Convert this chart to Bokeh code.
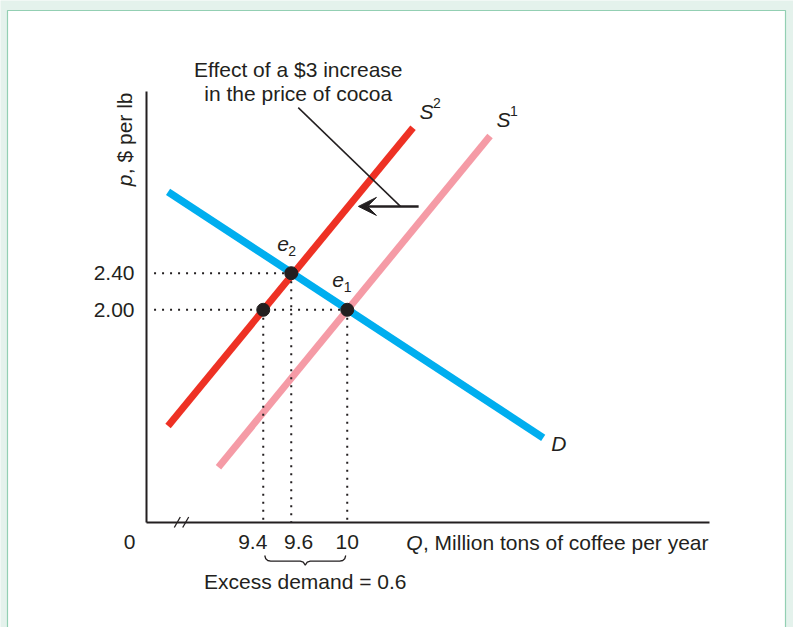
import math
from bokeh.plotting import figure
from bokeh.models import (Range1d, FixedTicker, NumeralTickFormatter, Label, Arrow,
                          VeeHead, PolyAnnotation, BoxAnnotation)
from bokeh.embed import file_html
from bokeh.resources import INLINE

# ---------------- data ----------------
q_lo, q_hi = 8.566, 12.588          # quantity axis extent (million tons)
p_lo, p_hi = -0.325, 4.386          # price axis extent ($ per lb)
q_view = (7.523, 13.188)            # visible window
p_view = (-1.4725, 5.3805)

q_ticks = [9.4, 9.6, 10.0]
q_tick_labels = ["9.4", "9.6", "10"]
p_ticks = [2.0, 2.4]
p_tick_labels = ["2.00", "2.40"]

demand_q = [8.72, 11.40]
demand_p = [3.29, 0.60]
supply1_q = [9.08, 11.02]
supply1_p = [0.28, 3.90]
supply2_q = [8.72, 10.47]
supply2_p = [0.73, 3.99]

eq_q = [9.4, 9.6, 10.0]
eq_p = [2.0, 2.4, 2.0]
guide_q0 = 8.62

shift_p = 3.13
shift_q_from = 10.51
shift_q_to = 10.08
pointer_q = [10.38, 9.65]
pointer_p = [3.13, 4.21]

# ---------------- style ----------------
FONT = "Liberation Sans"
INK = "#231f20"
BLUE = "#00aeef"
RED = "#ee3124"
PINK = "#f59ba6"
PANEL_BG = "#e4f2ec"
PANEL_LINE = "#93cfb3"

W, H = 793, 627
kx = W / (q_view[1] - q_view[0])
ky = H / (p_view[1] - p_view[0])
BASE_FIX = 7.5   # lift for alphabetic-baseline labels

p = figure(width=W, height=H, output_backend="svg", toolbar_location=None, tools="",
           x_range=Range1d(*q_view), y_range=Range1d(*p_view),
           min_border=0, min_border_left=0, min_border_right=0,
           min_border_top=0, min_border_bottom=0,
           background_fill_color=PANEL_BG, border_fill_color=PANEL_BG)
p.outline_line_color = None
p.xgrid.visible = False
p.ygrid.visible = False

# white panel with thin green border
p.add_layout(BoxAnnotation(left=q_view[0] + 7 / kx, right=q_view[1] - 8 / kx,
                           top=p_view[1] - 10 / ky, bottom=p_view[0] - 5 / ky,
                           fill_color="white", fill_alpha=1, line_color=PANEL_LINE,
                           line_alpha=1, line_width=1.2, level="underlay"))

for ax in (p.xaxis[0], p.yaxis[0]):
    ax.axis_line_color = INK
    ax.axis_line_width = 2
    ax.major_tick_line_color = None
    ax.minor_tick_line_color = None
    ax.major_tick_out = 0
    ax.major_tick_in = 0
    ax.minor_tick_out = 0
    ax.minor_tick_in = 0
    ax.major_label_text_font = FONT
    ax.major_label_text_font_size = "21px"
    ax.major_label_text_color = INK

xa = p.xaxis[0]
xa.fixed_location = p_lo
xa.bounds = (q_lo, q_hi)
xa.ticker = FixedTicker(ticks=q_ticks)
xa.formatter = NumeralTickFormatter(format="0.[0]")
# crowded labels nudged apart as in the original, using wide spaces
pads = {"9.4": "9.4\u2003", "9.6": "\u2002\u20099.6"}
xa.major_label_overrides = {t: pads.get(s, s) for t, s in zip(q_ticks, q_tick_labels)}
xa.major_label_standoff = 7

ya = p.yaxis[0]
ya.fixed_location = q_lo
ya.bounds = (p_lo, p_hi)
ya.ticker = FixedTicker(ticks=p_ticks)
ya.formatter = NumeralTickFormatter(format="0.00")
ya.major_label_overrides = dict(zip(p_ticks, p_tick_labels))
ya.major_label_standoff = 12

# curves
p.line(supply1_q, supply1_p, line_color=PINK, line_width=7)
p.line(demand_q, demand_p, line_color=BLUE, line_width=7.5)
p.line(supply2_q, supply2_p, line_color=RED, line_width=7)

# dotted guides
h_levels = sorted(set(eq_p))
h_ends = [max(q for q, pp in zip(eq_q, eq_p) if pp == lv) for lv in h_levels]
p.segment(x0=[guide_q0] * len(h_levels), y0=h_levels, x1=h_ends, y1=h_levels,
          line_color=INK, line_width=2, line_dash="2 6")
p.segment(x0=eq_q, y0=eq_p, x1=eq_q, y1=[p_lo] * len(eq_q),
          line_color=INK, line_width=2, line_dash="2 6")

# equilibrium dots
p.scatter(eq_q, eq_p, size=13, fill_color=INK, line_color=INK)

# shift arrow and pointer
p.add_layout(Arrow(end=VeeHead(size=18, fill_color=INK, line_color=INK, line_width=1),
                   x_start=shift_q_from, y_start=shift_p, x_end=shift_q_to, y_end=shift_p,
                   line_color=INK, line_width=2.5))
p.add_layout(Arrow(end=None, x_start=pointer_q[0], y_start=pointer_p[0],
                   x_end=pointer_q[1], y_end=pointer_p[1], line_color=INK, line_width=1.5))

# axis break marks
brk_q = q_lo + 35 / kx
for d in (-4.2, 4.2):
    c = brk_q + d / kx
    p.add_layout(Arrow(end=None, x_start=c - 3 / kx, y_start=p_lo - 5 / ky,
                       x_end=c + 3 / kx, y_end=p_lo + 5.5 / ky,
                       line_color=INK, line_width=1.3))

# brace under 9.4 .. 10
bl = eq_q[0] + 1.5 / kx
br = eq_q[2] - 1.5 / kx
bm = (eq_q[0] + eq_q[2]) / 2
half = [(0, 33), (1, 36.3), (3, 38.0), (6, 38.6)]
left_x = [bl + dx / kx for dx, _ in half]
left_y = [p_lo - dy / ky for _, dy in half]
mid_pts = [(-5, 38.6), (-2, 39.6), (0, 42.6), (2, 39.6), (5, 38.6)]
mid_x = [bm + dx / kx for dx, _ in mid_pts]
mid_y = [p_lo - dy / ky for _, dy in mid_pts]
right_x = [br - dx / kx for dx, _ in reversed(half)]
right_y = [p_lo - dy / ky for _, dy in reversed(half)]
bx = left_x + mid_x + right_x
by = left_y + mid_y + right_y
p.add_layout(PolyAnnotation(xs=bx + bx[::-1], ys=by + by[::-1], fill_alpha=0,
                            line_color=INK, line_alpha=1, line_width=1.3))


def lab(x, y, text, dx=0, dy=0, size="21px", italic=False, align="left",
        baseline="alphabetic", angle=0.0):
    if baseline == "alphabetic":
        dy += BASE_FIX
    p.add_layout(Label(x=x, y=y, text=text, x_offset=dx, y_offset=dy,
                       text_font=FONT, text_font_size=size, text_color=INK,
                       text_font_style="italic" if italic else "normal",
                       text_align=align, text_baseline=baseline, angle=angle))


# equilibrium labels
lab(eq_q[2], eq_p[2], "e", -15, 22, "21px", italic=True)
lab(eq_q[2], eq_p[2], "1", -3.5, 15, "14px")
lab(eq_q[1], eq_p[1], "e", -14, 22, "21px", italic=True)
lab(eq_q[1], eq_p[1], "2", -3, 15, "14px")

# curve labels
lab(supply2_q[-1], supply2_p[-1], "S", 6.5, 9, "21px", italic=True)
lab(supply2_q[-1], supply2_p[-1], "2", 20, 17, "14px")
lab(supply1_q[-1], supply1_p[-1], "S", 6.5, 9, "21px", italic=True)
lab(supply1_q[-1], supply1_p[-1], "1", 20, 17, "14px")
lab(demand_q[-1], demand_p[-1], "D", 8, -13, "21px", italic=True)

# annotation text
lab(pointer_q[1], pointer_p[1], "Effect of a $3 increase", 0, 30.7, align="center")
lab(pointer_q[1], pointer_p[1], "in the price of cocoa", 0, 6.7, align="center")

# axis texts
lab(q_lo, p_lo, "0", -17, -27, align="center")
lab(q_hi, p_lo, ", Million tons of coffee per year", -1, -27, align="right")
lab(q_hi, p_lo, "Q", -287, -27, italic=True, align="right")
lab(q_lo, p_hi, ", $ per lb", -22, -1, align="right", baseline="middle", angle=math.pi / 2)
lab(q_lo, p_hi, "p", -22, -83, italic=True, align="right", baseline="middle",
    angle=math.pi / 2)
lab(bm, p_lo, "Excess demand = 0.6", 0, -66, align="center")

open("out.html", "w").write(file_html(p, INLINE))
